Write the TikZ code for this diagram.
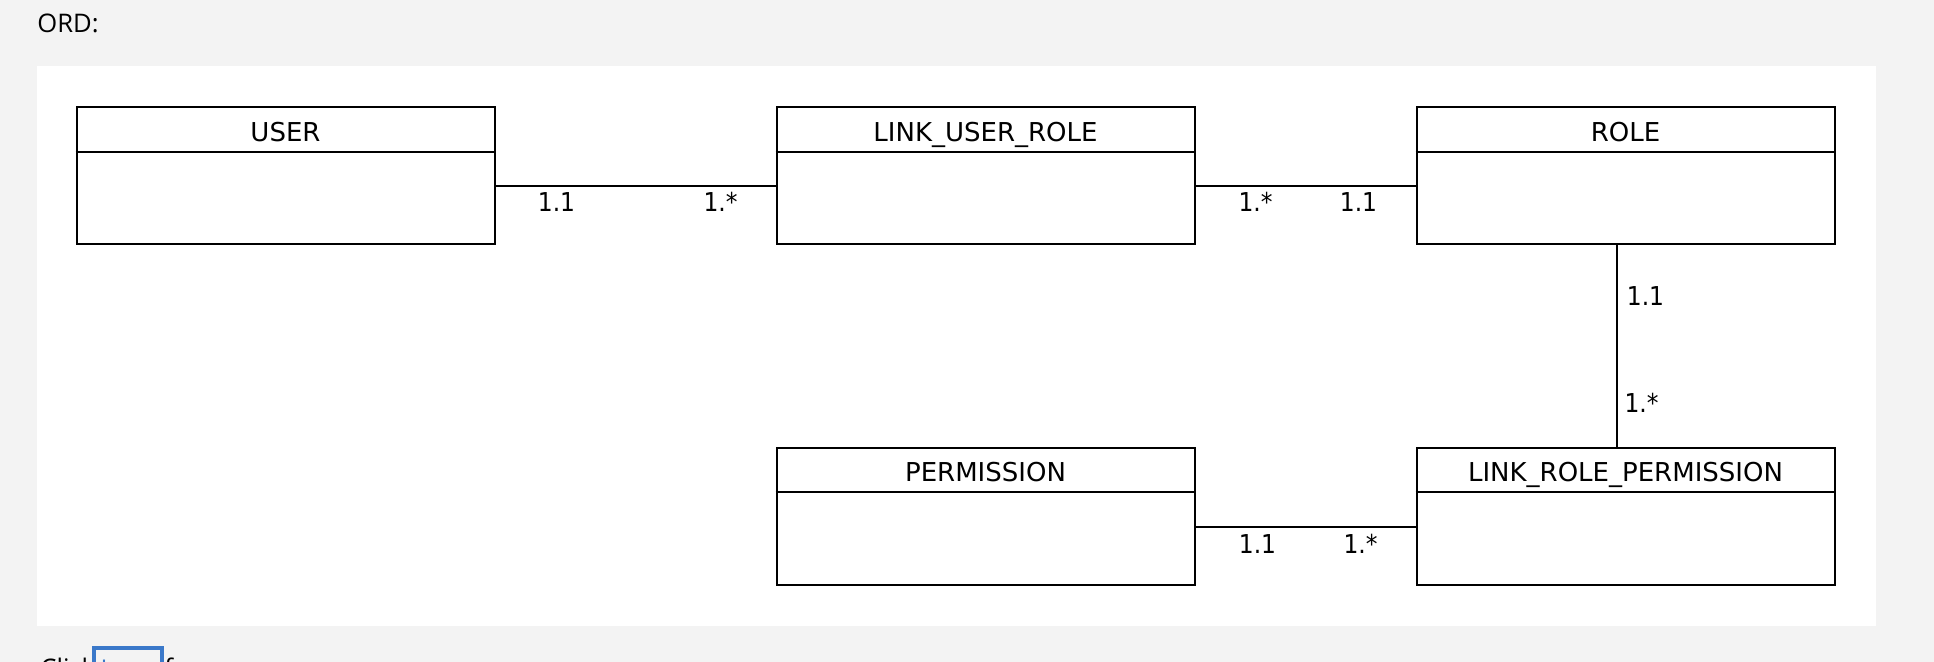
\documentclass[tikz,border=0pt]{standalone}
\usepackage{fontspec}
\setmainfont{Open Sans}
\newfontfamily\ermfont{DejaVu Sans}
\newfontfamily\multfont{DejaVu Sans Condensed}
\usetikzlibrary{
    calc,
    positioning
}
\definecolor{pagegray}{HTML}{F3F3F3}
\definecolor{linkblue}{HTML}{3A78C9}
\tikzset{
    entity/.style={draw, line width=1pt, fill=white, inner sep=0pt,
        minimum width=209pt, minimum height=68.5pt},
    entname/.style={font=\ermfont\fontsize{13}{15}\selectfont, anchor=base, inner sep=0pt},
    mult/.style={font=\multfont\fontsize{13}{15}\selectfont, anchor=base, inner sep=0pt},
    rel/.style={line width=1pt}
}

\begin{document}
\begin{tikzpicture}[x=0.5pt,y=-0.5pt]
% Page and panel
\fill[pagegray] (0,0) rectangle (1934,662);
\clip (0,0) rectangle (1934,662);
\fill[white] (37,66) rectangle (1876,625.5);
\node[anchor=base west, inner sep=0pt, font=\fontsize{12.8}{15}\selectfont] (heading) at (37,32.3) {ORD:};

% Entities
\node[entity] (user) at (285.5,175.8) {};
\node[entity] (lur) at (985.5,175.8) {};
\node[entity] (role) at (1625.5,175.8) {};
\node[entity] (perm) at (985.5,516.2) {};
\node[entity] (lrp) at (1625.5,516.2) {};

\foreach \n/\t in {user/USER, lur/LINK\_USER\_ROLE, role/ROLE,
    perm/PERMISSION, lrp/LINK\_ROLE\_PERMISSION} {
    \draw[rel] ($(\n.north west)+(0,45.6)$) -- ($(\n.north east)+(0,45.6)$);
    \node[entname] at ($(\n.north)+(0,35)$) {\t};
}

% Relations
\draw[rel] ($(user.north east)+(0,80)$) -- ($(lur.north west)+(0,80)$);
\node[mult] (m1) at ($(user.north east)+(61,105.7)$) {1.1};
\node[mult] (m2) at ($(lur.north west)+(-55,105.7)$) {1.*};

\draw[rel] ($(lur.north east)+(0,80)$) -- ($(role.north west)+(0,80)$);
\node[mult] (m3) at ($(lur.north east)+(60,105.7)$) {1.*};
\node[mult] (m4) at ($(role.north west)+(-57,105.7)$) {1.1};

\draw[rel] ($(role.south)+(-8.5,0)$) -- ($(lrp.north)+(-8.5,0)$);
\node[mult] (m5) at ($(role.south)+(20,60)$) {1.1};
\node[mult] (m6) at ($(lrp.north)+(16,-33.7)$) {1.*};

\draw[rel] ($(perm.north east)+(0,80)$) -- ($(lrp.north west)+(0,80)$);
\node[mult] (m7) at ($(perm.north east)+(62,106.3)$) {1.1};
\node[mult] (m8) at ($(lrp.north west)+(-55,106.3)$) {1.*};

% Link line below the panel
\node[anchor=base west, inner sep=0pt, font=\fontsize{12.8}{15}\selectfont] (click) at (40,677) {Click};
\node[draw=linkblue, line width=2pt, anchor=north west, minimum width=34pt, minimum height=22pt,
    inner sep=0pt, font=\fontsize{12.8}{15}\selectfont, text=linkblue] (here) at (92,646) {here};
\node[anchor=base west, inner sep=0pt, font=\fontsize{12.8}{15}\selectfont] (for) at (164,677) {for};
\end{tikzpicture}
\end{document}
